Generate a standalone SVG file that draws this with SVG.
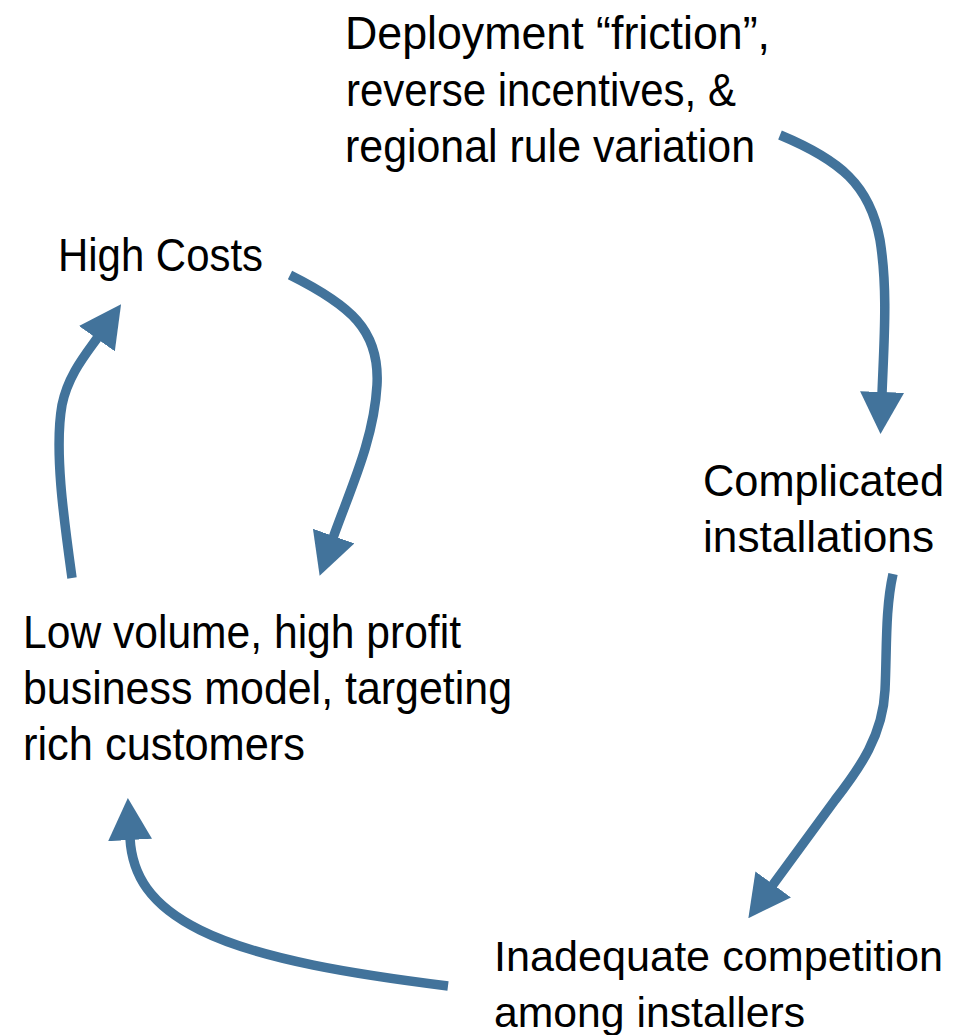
<svg xmlns="http://www.w3.org/2000/svg" width="956" height="1035" viewBox="0 0 956 1035">
  <style>
    .lbl { font-family: "Liberation Sans", Arial, sans-serif; font-size: 46px; fill: #000000; }
    .tight { font-size: 44px; }
    .tighter { font-size: 43px; }
    .conn { fill: none; stroke: #42739B; stroke-width: 9.5; stroke-linecap: butt; }
  </style>
  <defs>
    <marker id="arrow" markerUnits="userSpaceOnUse" viewBox="0 0 42 44" markerWidth="42" markerHeight="44" refX="2" refY="22" orient="auto">
      <path d="M0,0 L42,22 L0,44 z" fill="#42739B"/>
    </marker>
  </defs>
  <rect width="956" height="1035" fill="#ffffff"/>

  <g id="node-friction">
    <text class="lbl" x="345" y="49" textLength="425" lengthAdjust="spacingAndGlyphs">Deployment “friction”,</text>
    <text class="lbl" x="346" y="106" textLength="390" lengthAdjust="spacingAndGlyphs">reverse incentives, &amp;</text>
    <text class="lbl" x="345" y="162" textLength="410" lengthAdjust="spacingAndGlyphs">regional rule variation</text>
  </g>
  <g id="node-highcosts">
    <text class="lbl" x="58" y="271" textLength="205" lengthAdjust="spacingAndGlyphs">High Costs</text>
  </g>
  <g id="node-complicated">
    <text class="lbl tight" x="703" y="496" textLength="241" lengthAdjust="spacingAndGlyphs">Complicated</text>
    <text class="lbl tight" x="703" y="552" textLength="231" lengthAdjust="spacingAndGlyphs">installations</text>
  </g>
  <g id="node-lowvolume">
    <text class="lbl" x="23" y="648" textLength="438" lengthAdjust="spacingAndGlyphs">Low volume, high profit</text>
    <text class="lbl" x="23" y="704" textLength="489" lengthAdjust="spacingAndGlyphs">business model, targeting</text>
    <text class="lbl" x="23" y="760" textLength="282" lengthAdjust="spacingAndGlyphs">rich customers</text>
  </g>
  <g id="node-inadequate">
    <text class="lbl tighter" x="494" y="971" textLength="449" lengthAdjust="spacingAndGlyphs">Inadequate competition</text>
    <text class="lbl tighter" x="494" y="1027" textLength="311" lengthAdjust="spacingAndGlyphs">among installers</text>
  </g>

  <g id="connectors">
    <path class="conn" marker-end="url(#arrow)" d="M780,135 C840,160 870,185 880,240 C888,290 884,340 882,394"/>
    <path class="conn" marker-end="url(#arrow)" d="M290,275 C350,305 380,330 377,385 C374,440 350,490 333,538"/>
    <path class="conn" marker-end="url(#arrow)" d="M72,578 C64,520 54,450 62,405 C68,375 86,354 98,337"/>
    <path class="conn" marker-end="url(#arrow)" d="M893,574 C885,610 887,650 885,690 C883,735 860,768 835,800 L772,886"/>
    <path class="conn" marker-end="url(#arrow)" d="M448,986 C360,975 260,960 200,930 C150,905 132,875 130,838"/>
  </g>
</svg>
